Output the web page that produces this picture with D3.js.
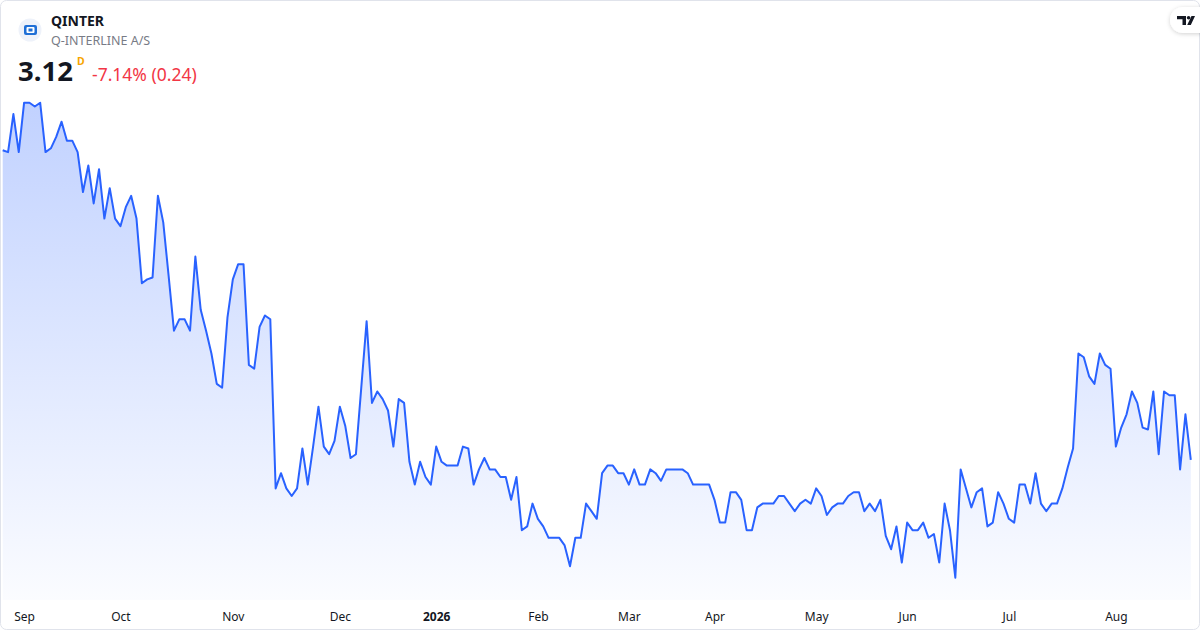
<!DOCTYPE html>
<html>
<head>
<meta charset="utf-8">
<script src="https://cdn.jsdelivr.net/npm/d3@7"></script>
<style>
    html, body { margin: 0; padding: 0; background: #ffffff; }
    #chart { width: 1200px; height: 630px; }
    text { font-family: "Noto Sans", "Open Sans", sans-serif; }
</style>
</head>
<body>
<div id="chart"></div>
<script>
// Daily close prices, one per trading day
const prices = [
    4.75, 4.74, 4.94, 4.74, 5.00, 5.00, 4.98, 5.00, 4.74, 4.76,
    4.82, 4.90, 4.80, 4.80, 4.74, 4.53, 4.67, 4.47, 4.65, 4.39,
    4.55, 4.39, 4.35, 4.45, 4.51, 4.39, 4.05, 4.07, 4.08, 4.51,
    4.37, 4.09, 3.80, 3.86, 3.86, 3.80, 4.19, 3.91, 3.80, 3.68,
    3.52, 3.50, 3.87, 4.07, 4.15, 4.15, 3.62, 3.60, 3.82, 3.88,
    3.86, 2.97, 3.05, 2.97, 2.93, 2.97, 3.18, 2.99, 3.19, 3.40,
    3.19, 3.15, 3.22, 3.40, 3.30, 3.13, 3.15, 3.50, 3.85, 3.42,
    3.48, 3.44, 3.38, 3.19, 3.44, 3.42, 3.11, 2.99, 3.11, 3.03,
    2.99, 3.19, 3.11, 3.09, 3.09, 3.09, 3.19, 3.18, 2.99, 3.07,
    3.13, 3.07, 3.07, 3.03, 3.03, 2.91, 3.03, 2.75, 2.77, 2.89,
    2.81, 2.77, 2.71, 2.71, 2.71, 2.67, 2.56, 2.71, 2.71, 2.89,
    2.85, 2.81, 3.05, 3.09, 3.09, 3.05, 3.05, 2.99, 3.07, 2.99,
    2.99, 3.07, 3.05, 3.01, 3.07, 3.07, 3.07, 3.07, 3.05, 2.99,
    2.99, 2.99, 2.99, 2.91, 2.79, 2.79, 2.95, 2.95, 2.91, 2.75,
    2.75, 2.87, 2.89, 2.89, 2.89, 2.93, 2.93, 2.89, 2.85, 2.89,
    2.91, 2.89, 2.97, 2.93, 2.83, 2.87, 2.89, 2.89, 2.93, 2.95,
    2.95, 2.85, 2.89, 2.85, 2.91, 2.72, 2.65, 2.77, 2.58, 2.79,
    2.75, 2.75, 2.79, 2.71, 2.73, 2.58, 2.89, 2.75, 2.50, 3.07,
    2.97, 2.87, 2.95, 2.97, 2.77, 2.79, 2.95, 2.89, 2.81, 2.79,
    2.99, 2.99, 2.89, 3.05, 2.89, 2.85, 2.89, 2.89, 2.97, 3.08,
    3.18, 3.68, 3.66, 3.56, 3.52, 3.68, 3.62, 3.60, 3.19, 3.29,
    3.36, 3.48, 3.42, 3.29, 3.28, 3.48, 3.15, 3.48, 3.46, 3.46,
    3.07, 3.36, 3.12
];

// Month labels sit on the first trading day of each month (bar index)
const tickIndex = [4, 22, 43, 63, 81, 100, 117, 133, 152, 169, 188, 208];
const tickLabels = ["Sep", "Oct", "Nov", "Dec", "2026", "Feb", "Mar", "Apr", "May", "Jun", "Jul", "Aug"];

// Header texts
const symbol = "QINTER";
const companyName = "Q-INTERLINE A/S";
const lastPrice = "3.12";
const interval = "D";
const changeText = "-7.14% (0.24)";

drawChart();

function drawChart() {
    const width = 1200;
    const height = 630;
    const plotBottom = 600;

    const svg = d3.select("#chart")
        .append("svg")
        .attr("width", width)
        .attr("height", height);

    const defs = svg.append("defs");

    // Area gradient, strong at the top, fading to almost nothing
    const grad = defs.append("linearGradient")
        .attr("id", "areaFill")
        .attr("gradientUnits", "userSpaceOnUse")
        .attr("x1", 0).attr("y1", 102)
        .attr("x2", 0).attr("y2", plotBottom);
    grad.append("stop").attr("offset", "0%").attr("stop-color", "rgba(41,98,255,0.29)");
    grad.append("stop").attr("offset", "100%").attr("stop-color", "rgba(41,98,255,0.02)");

    // Soft shadow for the logo pill
    const shadow = defs.append("filter")
        .attr("id", "pillShadow")
        .attr("x", "-50%").attr("y", "-50%")
        .attr("width", "200%").attr("height", "200%");
    shadow.append("feDropShadow")
        .attr("dx", 0).attr("dy", 1)
        .attr("stdDeviation", 2)
        .attr("flood-color", "#000")
        .attr("flood-opacity", 0.18);

    // Card background and border
    svg.append("rect")
        .attr("x", 0.5).attr("y", 0.5)
        .attr("width", width - 1).attr("height", height - 1)
        .attr("rx", 6)
        .attr("fill", "#ffffff")
        .attr("stroke", "#e0e3eb");

    // Scales: one slot per trading day, price range 2.50 - 5.00
    const xScale = d3.scaleLinear()
        .domain([0, prices.length - 1])
        .range([2.7, 1190.8]);

    const yScale = d3.scaleLinear()
        .domain([2.5, 5.0])
        .range([577.7, 102.7]);

    // Filled area under the price line
    const area = d3.area()
        .x((d, i) => xScale(i))
        .y0(plotBottom)
        .y1(d => yScale(d));

    svg.append("path")
        .datum(prices)
        .attr("fill", "url(#areaFill)")
        .attr("d", area);

    // Price line
    const line = d3.line()
        .x((d, i) => xScale(i))
        .y(d => yScale(d));

    svg.append("path")
        .datum(prices)
        .attr("fill", "none")
        .attr("stroke", "#2962ff")
        .attr("stroke-width", 2)
        .attr("stroke-linejoin", "round")
        .attr("d", line);

    // Time axis (labels only)
    const xAxis = svg.append("g")
        .attr("transform", "translate(0,609.5)")
        .call(d3.axisBottom(xScale)
            .tickValues(tickIndex)
            .tickFormat((d, i) => tickLabels[i])
            .tickSize(0)
            .tickPadding(3));

    xAxis.select(".domain").remove();
    xAxis.selectAll("text")
        .attr("fill", "#131722")
        .style("font-size", "12px")
        .style("font-family", "\"Noto Sans\", sans-serif")
        .style("font-weight", d => tickLabels[tickIndex.indexOf(d)] === "2026" ? "bold" : "normal");

    // Header: symbol logo
    svg.append("circle")
        .attr("cx", 30).attr("cy", 30).attr("r", 11.5)
        .attr("fill", "#eef2fa");
    svg.append("rect")
        .attr("x", 24).attr("y", 25)
        .attr("width", 13).attr("height", 10)
        .attr("rx", 2)
        .attr("fill", "#1f6fd6");
    svg.append("rect")
        .attr("x", 26.5).attr("y", 27)
        .attr("width", 8).attr("height", 6)
        .attr("rx", 1)
        .attr("fill", "#ffffff");
    svg.append("rect")
        .attr("x", 28.5).attr("y", 28.5)
        .attr("width", 4).attr("height", 3)
        .attr("fill", "#1f6fd6");

    svg.append("text")
        .attr("x", 51).attr("y", 26)
        .attr("fill", "#131722")
        .style("font-size", "14px")
        .style("font-weight", "bold")
        .text(symbol);

    svg.append("text")
        .attr("x", 51).attr("y", 45)
        .attr("fill", "#787b86")
        .style("font-size", "12.5px")
        .text(companyName);

    svg.append("text")
        .attr("x", 18).attr("y", 80.5)
        .attr("fill", "#131722")
        .style("font-size", "27.5px")
        .style("font-weight", "bold")
        .text(lastPrice);

    svg.append("text")
        .attr("x", 77).attr("y", 65)
        .attr("fill", "#f7a600")
        .style("font-size", "10.5px")
        .style("font-weight", "bold")
        .text(interval);

    svg.append("text")
        .attr("x", 92).attr("y", 81)
        .attr("fill", "#f23645")
        .style("font-size", "17.5px")
        .text(changeText);

    // TradingView style logo pill in the top right corner
    svg.append("rect")
        .attr("x", 1170).attr("y", 7)
        .attr("width", 44).attr("height", 26)
        .attr("rx", 13)
        .attr("fill", "#ffffff")
        .attr("filter", "url(#pillShadow)");

    const logo = svg.append("g").attr("fill", "#131722");
    logo.append("path").attr("d", "M1177,16 H1186 V25 H1182.5 V19.3 H1177 Z");
    logo.append("circle").attr("cx", 1188.6).attr("cy", 17.8).attr("r", 1.8);
    logo.append("path").attr("d", "M1191.5,16 H1195 L1190.8,25 H1187.2 Z");
}
</script>
</body>
</html>
